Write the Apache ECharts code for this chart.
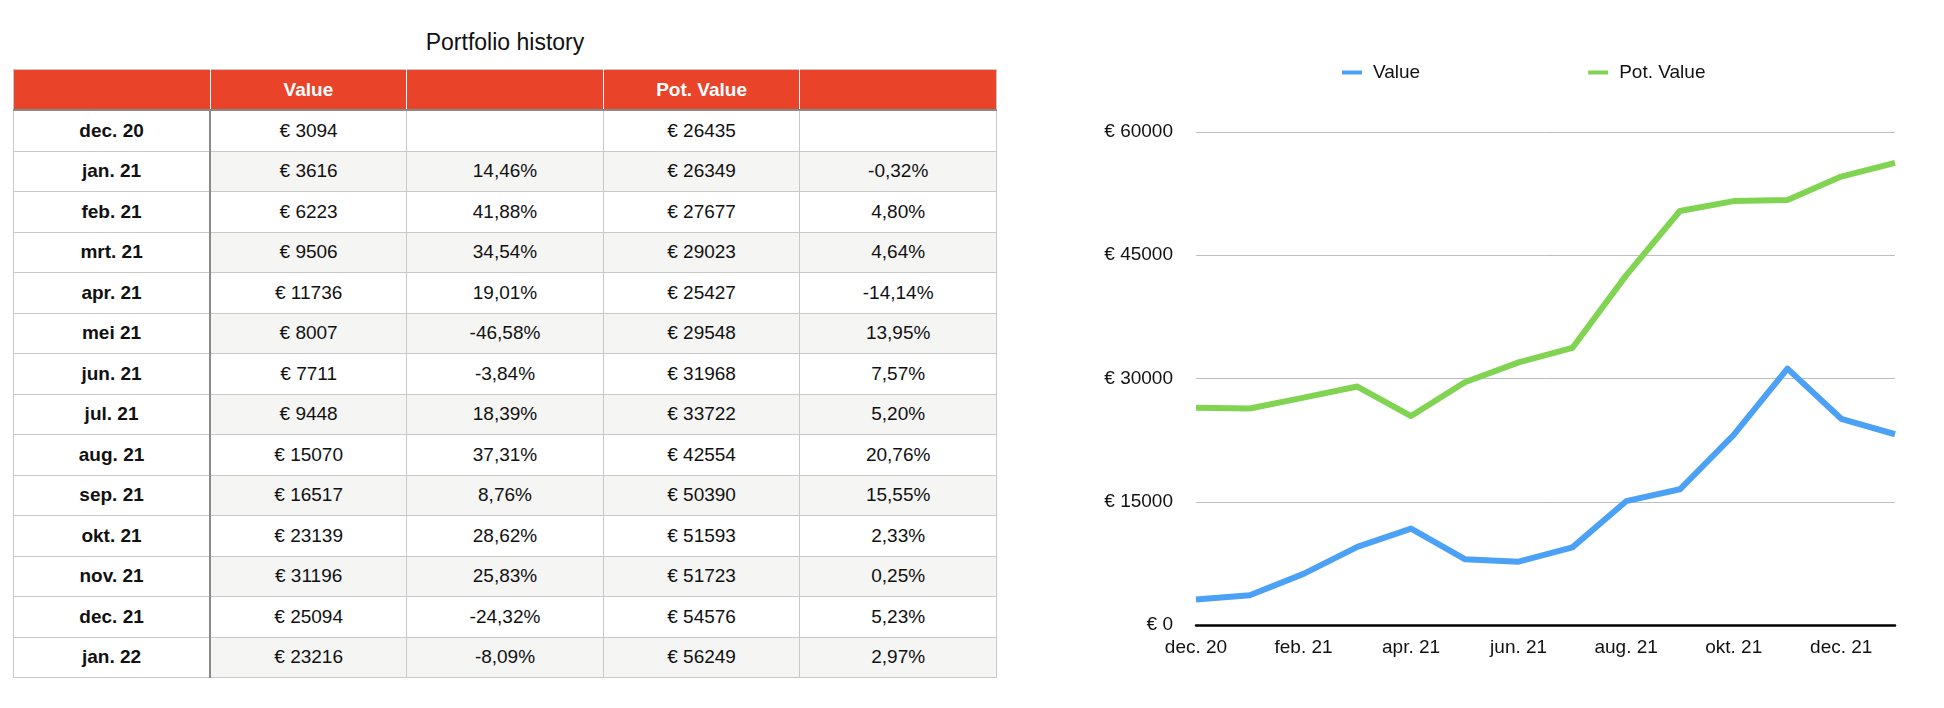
<!DOCTYPE html>
<html>
<head>
<meta charset="utf-8">
<title>Portfolio history</title>
<script src="https://cdn.jsdelivr.net/npm/echarts@6/dist/echarts.min.js"></script>
<style>
  html, body { margin: 0; padding: 0; background: #fff; }
  body { width: 1944px; height: 708px; position: relative; overflow: hidden; font-family: "Liberation Sans", Helvetica, Arial, sans-serif; }
  #title { position: absolute; left: 13px; width: 984px; top: 29px; text-align: center; font-size: 23px; color: #111; }
  #tbl { position: absolute; left: 13px; top: 69px; width: 984px; border-collapse: collapse; table-layout: fixed; font-size: 19px; color: #111; }
  #tbl th, #tbl td { text-align: center; padding: 0; border: 1px solid #c9c9c9; }
  #tbl th { background: #e9432a; color: #fff; font-weight: bold; height: 39px; border-color: #fff #fff #8a8a8a #fff; border-bottom-width: 2px; border-top-color: #c9c9c9; }
  #tbl th:first-child { border-left-color: #c9c9c9; }
  #tbl th:last-child { border-right-color: #c9c9c9; }
  #tbl td { height: 39.5px; }
  #tbl td:first-child { font-weight: bold; border-right: 2px solid #8a8a8a; background: #fff; }
  #tbl tr.alt td { background: #f5f5f4; }
  #tbl tr.alt td:first-child { background: #fff; }
  #chart { position: absolute; left: 1000px; top: 0; width: 944px; height: 708px; }
</style>
</head>
<body>
<div id="title">Portfolio history</div>
<table id="tbl"></table>
<div id="chart"></div>
<script>
const months = ['dec. 20', 'jan. 21', 'feb. 21', 'mrt. 21', 'apr. 21', 'mei 21', 'jun. 21', 'jul. 21', 'aug. 21', 'sep. 21', 'okt. 21', 'nov. 21', 'dec. 21', 'jan. 22'];
const value = [3094, 3616, 6223, 9506, 11736, 8007, 7711, 9448, 15070, 16517, 23139, 31196, 25094, 23216];
const valueChange = ['', '14,46%', '41,88%', '34,54%', '19,01%', '-46,58%', '-3,84%', '18,39%', '37,31%', '8,76%', '28,62%', '25,83%', '-24,32%', '-8,09%'];
const potValue = [26435, 26349, 27677, 29023, 25427, 29548, 31968, 33722, 42554, 50390, 51593, 51723, 54576, 56249];
const potChange = ['', '-0,32%', '4,80%', '4,64%', '-14,14%', '13,95%', '7,57%', '5,20%', '20,76%', '15,55%', '2,33%', '0,25%', '5,23%', '2,97%'];
const headers = ['', 'Value', '', 'Pot. Value', ''];
const yTicks = { min: 0, max: 60000, interval: 15000 };

const tbl = document.getElementById('tbl');
let html = '<tr>' + headers.map(h => '<th>' + h + '</th>').join('') + '</tr>';
months.forEach((m, i) => {
    html += '<tr' + (i % 2 === 1 ? ' class="alt"' : '') + '>' +
        '<td>' + m + '</td>' +
        '<td>€ ' + value[i] + '</td>' +
        '<td>' + valueChange[i] + '</td>' +
        '<td>€ ' + potValue[i] + '</td>' +
        '<td>' + potChange[i] + '</td></tr>';
});
tbl.innerHTML = html;

const chart = echarts.init(document.getElementById('chart'));
const font = '"Liberation Sans", Helvetica, Arial, sans-serif';
chart.setOption({
    animation: false,
    textStyle: { fontFamily: font },
    color: ['#4ba1f6', '#80d452'],
    legend: {
        top: 58,
        left: 337,
        itemGap: 168,
        itemWidth: 20,
        itemHeight: 4,
        icon: 'rect',
        textStyle: { fontSize: 19, color: '#111', fontFamily: font, padding: [0, 0, 0, 6] },
        data: ['Value', 'Pot. Value']
    },
    grid: { left: 196, right: 49, top: 132, bottom: 83, containLabel: false },
    xAxis: {
        type: 'category',
        data: months,
        boundaryGap: false,
        axisLine: { lineStyle: { color: '#000', width: 2.5 } },
        axisTick: { show: false },
        axisLabel: { interval: 1, margin: 13, fontSize: 19, color: '#111', fontFamily: font }
    },
    yAxis: {
        type: 'value',
        min: yTicks.min,
        max: yTicks.max,
        interval: yTicks.interval,
        axisLine: { show: false },
        axisTick: { show: false },
        axisLabel: { margin: 23, fontSize: 19, color: '#111', fontFamily: font, formatter: v => '€ ' + v },
        splitLine: { lineStyle: { color: '#bdbdbd', width: 1 } }
    },
    series: [
        { name: 'Value', type: 'line', data: value, showSymbol: false, lineStyle: { width: 6, join: 'round' } },
        { name: 'Pot. Value', type: 'line', data: potValue, showSymbol: false, lineStyle: { width: 6, join: 'round' } }
    ]
});
</script>
</body>
</html>
